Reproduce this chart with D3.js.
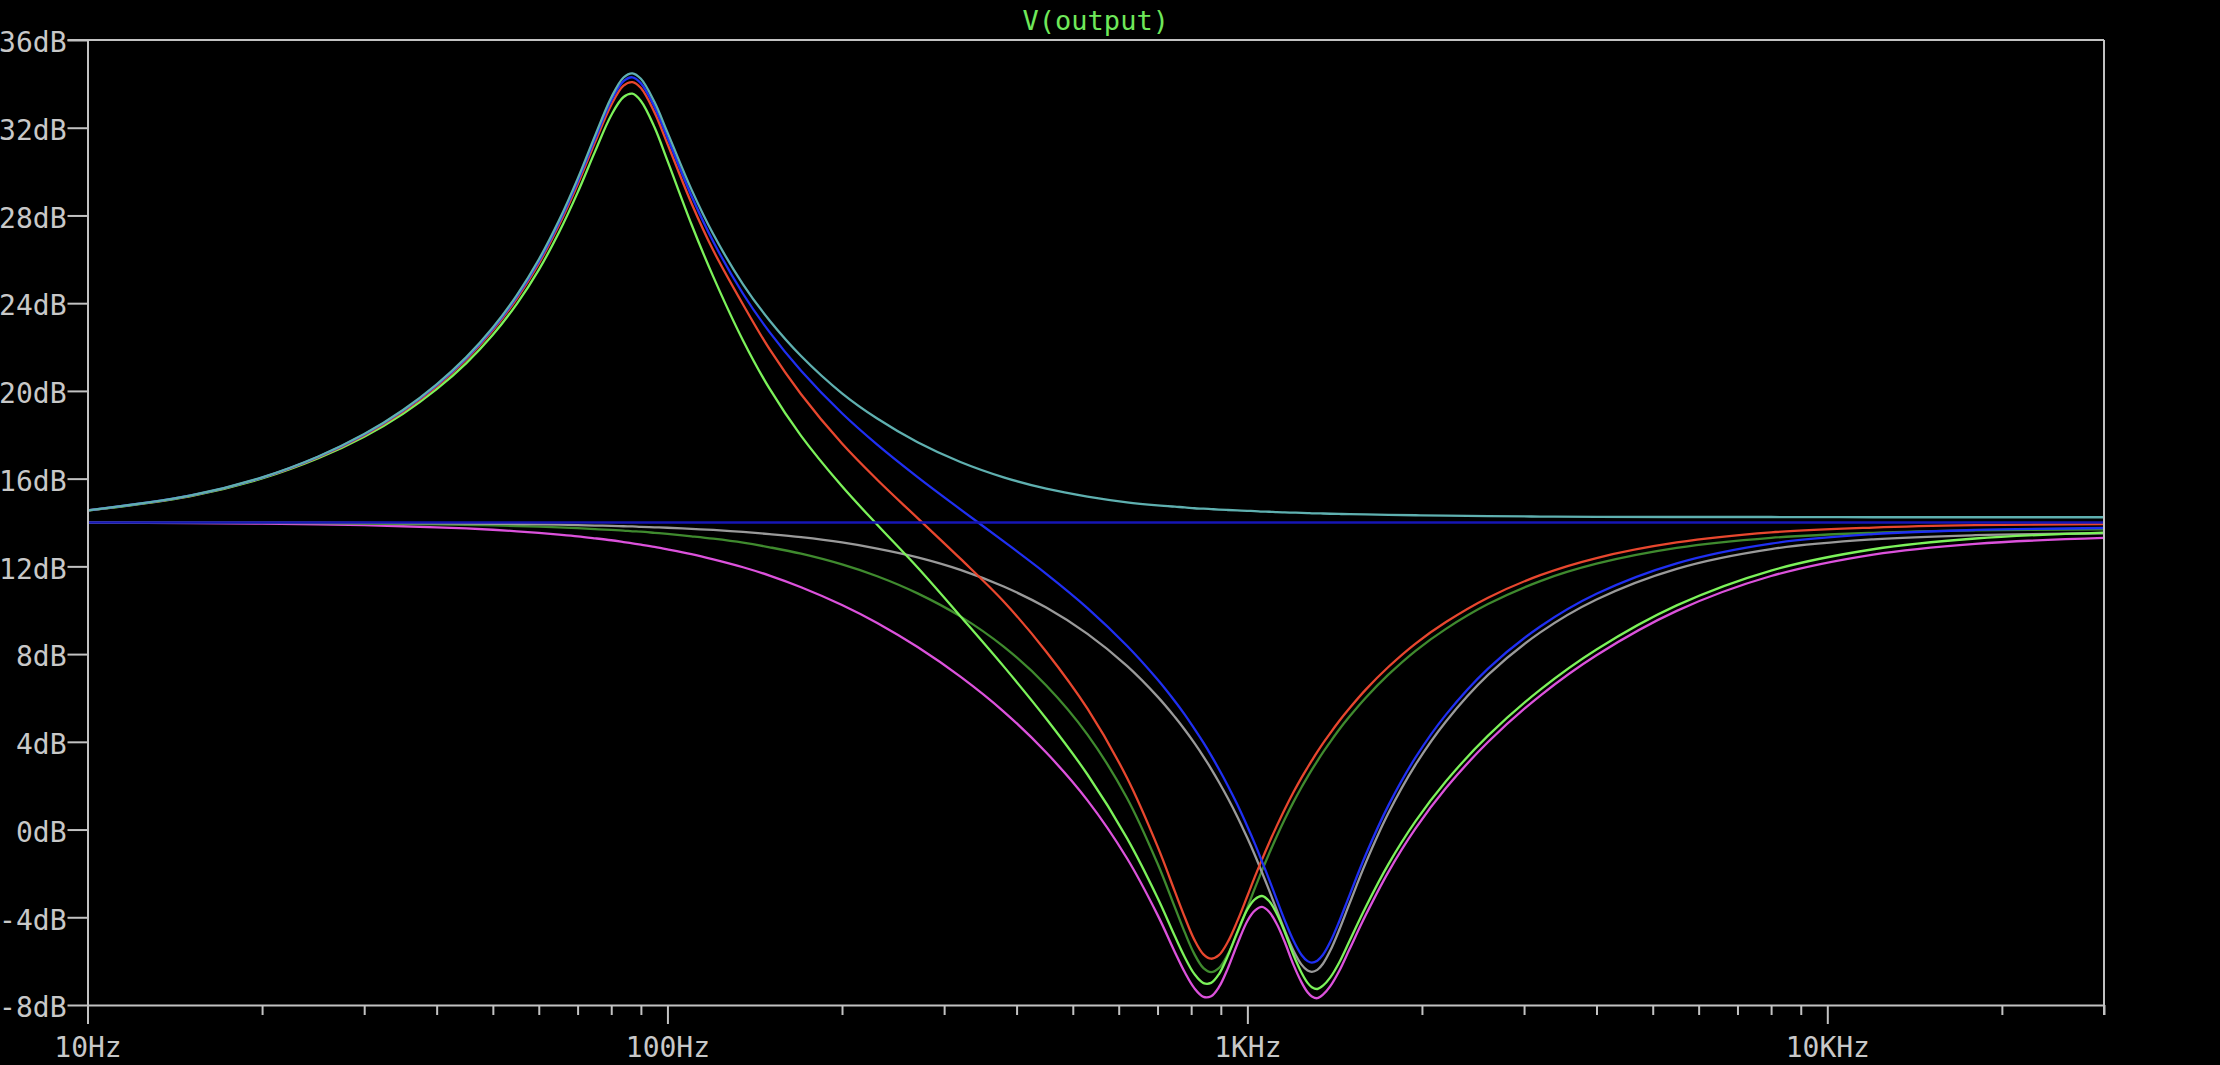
<!DOCTYPE html>
<html><head><meta charset="utf-8">
<script src="https://cdn.jsdelivr.net/npm/d3@7"></script>
<style>html,body{margin:0;padding:0;background:#000;overflow:hidden}</style>
</head><body>
<svg id="chart" width="2220" height="1065"></svg>
<script>
// ---------- data (dB at each frequency in Hz) ----------
const freqs = [10, 15, 20, 25, 30, 35, 40, 45, 50, 55, 60, 65, 70, 75, 80, 84, 87, 90, 95, 100,
 110, 120, 135, 150, 170, 200, 230, 270, 320, 380, 450, 530, 620, 700, 750, 780, 810, 840, 866, 893,
 925, 960, 1000, 1030, 1060, 1090, 1125, 1160, 1200, 1240, 1270, 1292, 1320, 1350, 1390, 1440, 1500, 1600, 1750, 1950,
 2200, 2600, 3200, 4000, 5500, 8000, 12000, 18000, 30000];

const magentaBothNotches = [13.99, 13.97, 13.95, 13.92, 13.88, 13.83, 13.78, 13.73, 13.67, 13.60,
 13.53, 13.45, 13.37, 13.28, 13.19, 13.11, 13.05, 12.99, 12.89, 12.78,
 12.56, 12.32, 11.96, 11.58, 11.05, 10.24, 9.42, 8.32, 6.97, 5.38,
 3.51, 1.33, -1.31, -3.89, -5.59, -6.51, -7.23, -7.63, -7.60, -7.19,
 -6.34, -5.25, -4.17, -3.70, -3.53, -3.75, -4.33, -5.13, -6.15, -6.97,
 -7.42, -7.61, -7.69, -7.53, -7.14, -6.45, -5.46, -3.90, -1.94, 0.05,
 1.89, 3.99, 6.11, 7.95, 9.97, 11.56, 12.54, 13.03, 13.30];

const darkGreenNotchLow = [14.00, 13.99, 13.98, 13.97, 13.95, 13.93, 13.91, 13.89, 13.87, 13.84,
 13.81, 13.78, 13.74, 13.70, 13.66, 13.63, 13.60, 13.58, 13.53, 13.48,
 13.37, 13.26, 13.08, 12.87, 12.58, 12.09, 11.55, 10.77, 9.72, 8.34,
 6.57, 4.33, 1.44, -1.55, -3.55, -4.69, -5.67, -6.32, -6.50, -6.32,
 -5.70, -4.75, -3.56, -2.68, -1.86, -1.10, -0.28, 0.47, 1.24, 1.93,
 2.40, 2.73, 3.12, 3.52, 4.00, 4.56, 5.15, 6.01, 7.06, 8.15,
 9.15, 10.28, 11.33, 12.12, 12.84, 13.30, 13.53, 13.64, 13.69];

const grayNotchHigh = [14.00, 13.99, 13.99, 13.99, 13.98, 13.97, 13.96, 13.95, 13.94, 13.93,
 13.91, 13.90, 13.88, 13.86, 13.85, 13.83, 13.82, 13.80, 13.78, 13.76,
 13.71, 13.66, 13.57, 13.47, 13.33, 13.09, 12.81, 12.41, 11.84, 11.08,
 10.12, 8.92, 7.46, 6.06, 5.13, 4.55, 3.95, 3.33, 2.77, 2.17,
 1.44, 0.61, -0.39, -1.16, -1.96, -2.76, -3.70, -4.60, -5.50, -6.16,
 -6.43, -6.49, -6.40, -6.12, -5.52, -4.58, -3.38, -1.52, 0.74, 2.96,
 4.93, 7.05, 8.99, 10.49, 11.89, 12.79, 13.23, 13.42, 13.51];

const greenPeakBothNotches = [14.54, 15.19, 16.01, 16.93, 17.91, 18.96, 20.08, 21.27, 22.56, 23.97,
 25.52, 27.22, 29.04, 30.91, 32.57, 33.40, 33.55, 33.22, 32.02, 30.50,
 27.60, 25.20, 22.30, 20.10, 17.95, 15.65, 13.90, 11.95, 9.73, 7.44,
 5.05, 2.51, -0.39, -3.11, -4.87, -5.82, -6.58, -7.00, -6.99, -6.60,
 -5.77, -4.70, -3.64, -3.18, -3.03, -3.26, -3.86, -4.67, -5.70, -6.53,
 -6.99, -7.19, -7.27, -7.12, -6.74, -6.06, -5.08, -3.53, -1.59, 0.38,
 2.20, 4.28, 6.38, 8.21, 10.22, 11.81, 12.78, 13.27, 13.54];

const redPeakNotchLow = [14.55, 15.21, 16.04, 16.98, 17.98, 19.06, 20.21, 21.43, 22.76, 24.21,
 25.80, 27.55, 29.41, 31.33, 33.04, 33.92, 34.08, 33.81, 32.70, 31.27,
 28.56, 26.40, 23.94, 21.90, 19.85, 17.60, 15.95, 14.20, 12.35, 10.40,
 8.11, 5.51, 2.36, -0.77, -2.83, -4.00, -5.02, -5.69, -5.89, -5.73,
 -5.13, -4.20, -3.03, -2.16, -1.36, -0.61, 0.19, 0.93, 1.69, 2.37,
 2.83, 3.15, 3.54, 3.93, 4.40, 4.95, 5.53, 6.38, 7.41, 8.48,
 9.46, 10.57, 11.60, 12.38, 13.09, 13.55, 13.77, 13.88, 13.93];

const bluePeakNotchHigh = [14.55, 15.22, 16.05, 17.00, 18.01, 19.10, 20.26, 21.49, 22.83, 24.30,
 25.90, 27.67, 29.55, 31.49, 33.23, 34.12, 34.30, 34.03, 32.95, 31.55,
 28.90, 26.80, 24.43, 22.68, 20.92, 18.98, 17.55, 16.07, 14.60, 13.14,
 11.66, 10.10, 8.38, 6.84, 5.85, 5.24, 4.60, 3.96, 3.38, 2.76,
 2.01, 1.16, 0.14, -0.64, -1.46, -2.27, -3.23, -4.14, -5.05, -5.72,
 -6.00, -6.07, -5.98, -5.71, -5.12, -4.19, -3.00, -1.15, 1.09, 3.29,
 5.24, 7.34, 9.26, 10.75, 12.14, 13.04, 13.47, 13.66, 13.75];

const cyanPeakOnly = [14.55, 15.22, 16.06, 17.01, 18.03, 19.13, 20.30, 21.54, 22.89, 24.37,
 25.99, 27.77, 29.67, 31.63, 33.38, 34.29, 34.48, 34.23, 33.17, 31.79,
 29.19, 27.14, 24.86, 23.21, 21.59, 19.89, 18.74, 17.66, 16.76, 16.06,
 15.54, 15.18, 14.92, 14.78, 14.72, 14.69, 14.65, 14.63, 14.61, 14.59,
 14.57, 14.55, 14.53, 14.52, 14.50, 14.49, 14.47, 14.46, 14.45, 14.44,
 14.43, 14.42, 14.42, 14.41, 14.40, 14.39, 14.38, 14.37, 14.35, 14.33,
 14.31, 14.29, 14.27, 14.26, 14.25, 14.25, 14.24, 14.24, 14.24];

const navyFlatFreqs = [10, 30000];
const navyFlat = [14.0, 14.0];

const yTickValues = [-8, -4, 0, 4, 8, 12, 16, 20, 24, 28, 32, 36];
const xMajorTicks = [10, 100, 1000, 10000];
const xMajorLabels = ["10Hz", "100Hz", "1KHz", "10KHz"];
const xDomain = [10, 30000];
const yDomain = [-8, 36];
const chartTitle = "V(output)";

// ---------- styles ----------
const seriesList = [
  {f: freqs, values: magentaBothNotches, color: "#dc52dc"},
  {f: freqs, values: darkGreenNotchLow, color: "#3f8a2e"},
  {f: freqs, values: grayNotchHigh, color: "#9a9a9a"},
  {f: freqs, values: greenPeakBothNotches, color: "#7cf25a"},
  {f: freqs, values: redPeakNotchLow, color: "#e8472e"},
  {f: freqs, values: bluePeakNotchHigh, color: "#1f2ff2"},
  {f: freqs, values: cyanPeakOnly, color: "#5fb0b0"},
  {f: navyFlatFreqs, values: navyFlat, color: "#1616b4"}
];
const axisColor = "#c2c2c2";
const labelColor = "#c8c8c8";
const titleColor = "#6fe85a";
const FONT = "'DejaVu Sans Mono', 'Liberation Mono', monospace";

const L = 87.5, R = 2104, T = 40, B = 1005;
const svg = d3.select("#chart");
svg.append("rect").attr("width", 2220).attr("height", 1065).attr("fill", "#000");

const x = d3.scaleLog().domain(xDomain).range([L, R]);
const y = d3.scaleLinear().domain(yDomain).range([B, T]);

// traces
const gTraces = svg.append("g");
seriesList.forEach(s => {
  const line = d3.line()
    .x((d, i) => x(s.f[i]))
    .y(d => y(d))
    .curve(d3.curveCatmullRom.alpha(0.5));
  gTraces.append("path")
    .attr("d", line(s.values))
    .attr("fill", "none")
    .attr("stroke", s.color)
    .attr("stroke-width", 2.3)
    .attr("stroke-linejoin", "round");
});

// left axis
const yAxis = d3.axisLeft(y).tickValues(yTickValues).tickSize(20).tickSizeOuter(0)
  .tickPadding(1).tickFormat(d => d + "dB");
const gy = svg.append("g").attr("transform", `translate(${L},0)`).call(yAxis);
gy.select(".domain").attr("stroke", axisColor).attr("stroke-width", 2);
gy.selectAll(".tick line").attr("stroke", axisColor).attr("stroke-width", 2);
gy.selectAll(".tick text").attr("fill", labelColor).attr("font-family", FONT)
  .attr("font-size", 28).attr("dy", "0.42em");

// bottom axis: minor ticks
const minorTicks = x.ticks().filter(t => !xMajorTicks.includes(t));
const xMinor = d3.axisBottom(x).tickValues(minorTicks).tickSize(10).tickSizeOuter(0).tickFormat("");
const gxm = svg.append("g").attr("transform", `translate(0,${B})`).call(xMinor);
gxm.select(".domain").attr("stroke", axisColor).attr("stroke-width", 2);
gxm.selectAll(".tick line").attr("stroke", axisColor).attr("stroke-width", 2);

// bottom axis: major ticks
const xMajor = d3.axisBottom(x).tickValues(xMajorTicks).tickSize(19).tickSizeOuter(0)
  .tickFormat((d, i) => xMajorLabels[i]);
const gx = svg.append("g").attr("transform", `translate(0,${B})`).call(xMajor);
gx.select(".domain").remove();
gx.selectAll(".tick line").attr("stroke", axisColor).attr("stroke-width", 2);
gx.selectAll(".tick text").attr("fill", labelColor).attr("font-family", FONT)
  .attr("font-size", 28).attr("y", 52).attr("dy", 0);

// top border and right border
svg.append("line").attr("x1", L - 20).attr("x2", x(xDomain[1]))
  .attr("y1", y(yDomain[1])).attr("y2", y(yDomain[1]))
  .attr("stroke", axisColor).attr("stroke-width", 2);
svg.append("line").attr("x1", x(xDomain[1])).attr("x2", x(xDomain[1]))
  .attr("y1", y(yDomain[1])).attr("y2", y(yDomain[0]) + 10)
  .attr("stroke", axisColor).attr("stroke-width", 2);

// title
svg.append("text").attr("x", (L + R) / 2).attr("y", 30)
  .attr("text-anchor", "middle").attr("fill", titleColor)
  .attr("font-family", FONT).attr("font-size", 27).text(chartTitle);
</script>
</body></html>
